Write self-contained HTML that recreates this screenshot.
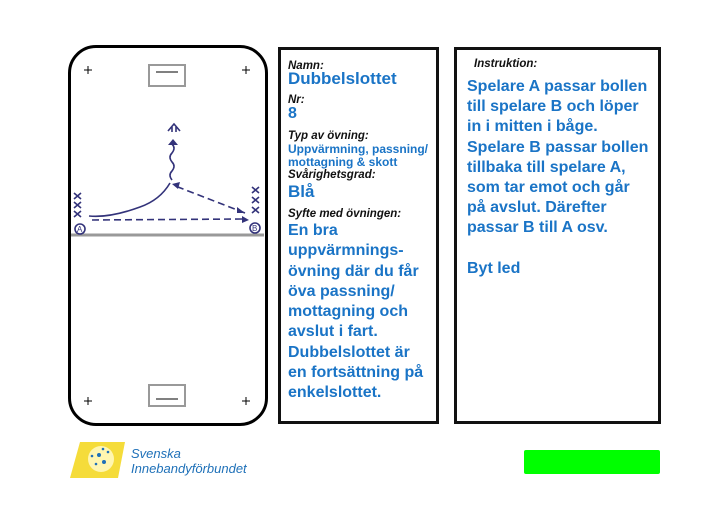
<!DOCTYPE html>
<html><head><meta charset="utf-8"><style>
body{margin:0;width:720px;height:509px;background:#fff;position:relative;overflow:hidden;font-family:"Liberation Sans",sans-serif}
.a{position:absolute}
.lab{position:absolute;left:288px;font-size:11.5px;font-weight:bold;font-style:italic;color:#111}
.val{position:absolute;left:288px;font-size:16px;font-weight:bold;color:#1a74c6}
</style></head><body>
<div class="a" style="left:68px;top:45px;width:194px;height:375px;border:3px solid #000;border-radius:28px"></div>
<div class="a" style="left:278px;top:47px;width:155px;height:371px;border:3px solid #111"></div>
<div class="a" style="left:454px;top:47px;width:201px;height:371px;border:3px solid #111"></div>
<svg class="a" style="left:0;top:0" width="720" height="509">
<g stroke="#999" stroke-width="2" fill="none">
<rect x="149" y="65" width="36" height="21"/><rect x="149" y="385" width="36" height="21"/>
<line x1="71" y1="235" x2="264" y2="235" stroke-width="3"/>
</g>
<g stroke="#000" stroke-width="1">
<line x1="156" y1="72" x2="178" y2="72"/><line x1="156" y1="399" x2="178" y2="399"/>
<path d="M84 70h8M88 66v8M242 70h8M246 66v8M84 401h8M88 397v8M242 401h8M246 397v8"/>
</g>
<g stroke="#33337a" stroke-width="1.6" fill="none">
<path d="M89 216 Q110 218 140 207 Q160 200 170 183"/>
<path d="M92 220 L243 219" stroke-dasharray="7 4"/>
<path d="M245 213 L178 187" stroke-dasharray="7 4"/>
<path d="M172 180 q-4 -5 0 -9 q4 -5 0 -9 q-4 -5 0 -9 q4 -5 0 -9"/>
<path d="M168 131 l6 -7 l6 7 M172 132 v-5 M176 132 v-5"/>
<circle cx="80" cy="229" r="5"/><circle cx="255" cy="228" r="5"/>
<path d="M74 193l7 6M81 193l-7 6M74 202l7 6M81 202l-7 6M74 211l7 6M81 211l-7 6"/>
<path d="M252 187l7 6M259 187l-7 6M252 197l7 6M259 197l-7 6M252 207l7 6M259 207l-7 6"/>
</g>
<g fill="#33337a"><path d="M168 145l5-6 5 6z"/><path d="M242 216l7 4-7 3z"/><path d="M172 184l8-2-2 7z"/><path d="M237 207l8 6-8 0z"/></g>
<g font-size="8" fill="#33337a" font-family="Liberation Sans"><text x="77" y="232">A</text><text x="252" y="231">B</text></g>
<path d="M80 442 H125 L118 478 H70 Z" fill="#f5dc3a"/>
<circle cx="101" cy="459" r="13" fill="#fff6b0"/>
<g fill="#1e70b8"><circle cx="99" cy="455" r="2"/><circle cx="104" cy="462" r="2"/><circle cx="96" cy="464" r="1.3"/><circle cx="108" cy="452" r="1.3"/><circle cx="92" cy="456" r="1.3"/><circle cx="103" cy="449" r="1.3"/></g>
<text x="131" y="458" font-size="13" font-style="italic" fill="#1e70b8" font-family="Liberation Sans">Svenska</text>
<text x="131" y="473" font-size="13" font-style="italic" fill="#1e70b8" font-family="Liberation Sans">Innebandyförbundet</text>
<rect x="524" y="450" width="136" height="24" rx="2" fill="#00ff00"/>
</svg>
<div class="lab" style="top:60px">Namn:</div>
<div class="val" style="top:69px;font-size:17px">Dubbelslottet</div>
<div class="lab" style="top:94px">Nr:</div>
<div class="val" style="top:105px">8</div>
<div class="lab" style="top:130px">Typ av övning:</div>
<div class="val" style="top:143px;font-size:12px;line-height:13px">Uppvärmning, passning/<br>mottagning &amp; skott</div>
<div class="lab" style="top:169px">Svårighetsgrad:</div>
<div class="val" style="top:182px;font-size:17px">Blå</div>
<div class="lab" style="top:208px">Syfte med övningen:</div>
<div class="val" style="top:221px;line-height:20.3px">En bra<br>uppvärmnings-<br>övning där du får<br>öva passning/<br>mottagning och<br>avslut i fart.<br>Dubbelslottet är<br>en fortsättning på<br>enkelslottet.</div>
<div class="lab" style="left:474px;top:58px">Instruktion:</div>
<div class="val" style="left:467px;top:77px;line-height:20.2px">Spelare A passar bollen<br>till spelare B och löper<br>in i mitten i båge.<br>Spelare B passar bollen<br>tillbaka till spelare A,<br>som tar emot och går<br>på avslut. Därefter<br>passar B till A osv.<br><br>Byt led</div>
</body></html>
